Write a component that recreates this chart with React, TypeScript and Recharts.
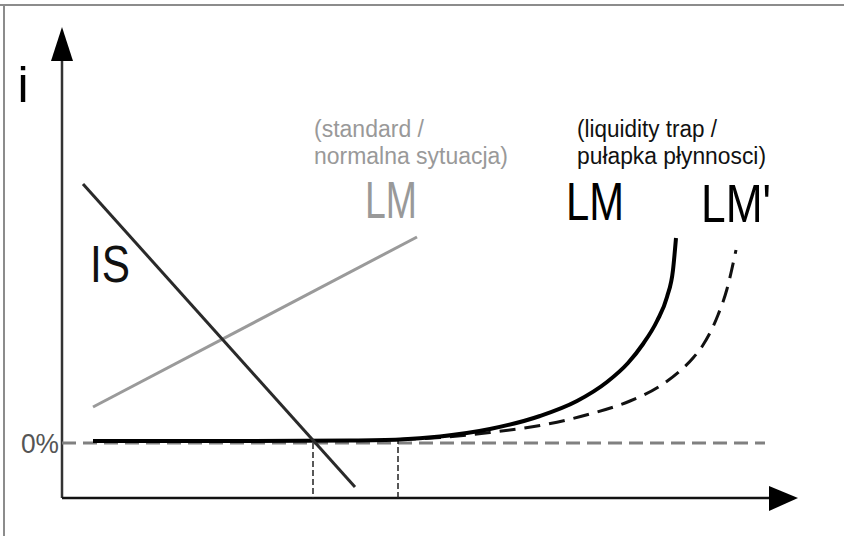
import React from "react";
import { ComposedChart, Line, XAxis, YAxis, ReferenceLine, ReferenceDot } from "recharts";

// Coordinates: x = output (Y), i = interest rate. 0% level at i = 0.
const isCurve = [
  { x: 2.1, i: 25.9 },
  { x: 29.3, i: -4.4 },
];

const lmStandard = [
  { x: 3.1, i: 3.6 },
  { x: 35.5, i: 20.6 },
];

const lmTrap = [
  { x: 3.1, i: 0.2 },
  { x: 18.8, i: 0.2 },
  { x: 28.8, i: 0.25 },
  { x: 33.8, i: 0.35 },
  { x: 37.8, i: 0.65 },
  { x: 42.8, i: 1.4 },
  { x: 47.8, i: 2.7 },
  { x: 51.5, i: 4.2 },
  { x: 54.5, i: 6.1 },
  { x: 56.6, i: 8.0 },
  { x: 58.1, i: 9.9 },
  { x: 59.5, i: 12.2 },
  { x: 60.5, i: 14.6 },
  { x: 61.1, i: 17.3 },
  { x: 61.4, i: 20.5 },
];

const lmShifted = [
  { x: 33.8, i: 0.35 },
  { x: 37.8, i: 0.55 },
  { x: 42.8, i: 1.05 },
  { x: 47.8, i: 1.75 },
  { x: 52.8, i: 2.9 },
  { x: 56.8, i: 4.2 },
  { x: 59.8, i: 5.7 },
  { x: 61.8, i: 7.2 },
  { x: 63.1, i: 8.5 },
  { x: 64.1, i: 9.8 },
  { x: 65.6, i: 12.8 },
  { x: 66.5, i: 15.4 },
  { x: 67.4, i: 19.3 },
];

const zeroLevel = [
  { x: 0, i: 0 },
  { x: 70.3, i: 0 },
];

const equilibriumMarks = [
  { x: 25.1, top: 0, bottom: -5.5 },
  { x: 33.6, top: 0.5, bottom: -5.5 },
];

const X_DOMAIN = [-6.2, 78.2];
const I_DOMAIN = [-9.3, 44.3];
const AXIS_I = -5.5;
const Y_AXIS_TOP = 40;
const X_AXIS_RIGHT = 71;
const Y_ARROW_TIP = { x: 0, i: 41.6 };
const X_ARROW_TIP = { x: 73.6, i: -5.5 };
const FRAME = { x: -5.8, i: 43.8 };

type Lbl = {
  text: string;
  x: number;
  i: number;
  size: number;
  fill: string;
  anchor: "start" | "middle" | "end";
  len?: number;
};

const labels: Lbl[] = [
  { text: "i", x: -3.9, i: 34.1, size: 50, fill: "#000", anchor: "middle" },
  { text: "0%", x: -0.3, i: -1.0, size: 28, fill: "#555", anchor: "end", len: 38 },
  { text: "IS", x: 2.8, i: 16.1, size: 52, fill: "#111", anchor: "start", len: 40 },
  { text: "LM", x: 30.3, i: 22.5, size: 51, fill: "#999", anchor: "start", len: 52 },
  { text: "(standard /", x: 25.2, i: 30.6, size: 23, fill: "#999", anchor: "start", len: 110 },
  { text: "normalna sytuacja)", x: 25.2, i: 27.9, size: 23, fill: "#999", anchor: "start", len: 194 },
  { text: "(liquidity trap /", x: 51.5, i: 30.6, size: 23, fill: "#111", anchor: "start", len: 140 },
  { text: "pułapka płynnosci)", x: 51.5, i: 27.9, size: 23, fill: "#111", anchor: "start", len: 189 },
  { text: "LM", x: 50.4, i: 22.3, size: 54, fill: "#000", anchor: "start", len: 58 },
  { text: "LM'", x: 63.9, i: 22.1, size: 54, fill: "#000", anchor: "start", len: 70 },
];

const FONT = "'Liberation Sans Narrow', 'Arial Narrow', 'Liberation Sans', sans-serif";

const textShape = (l: Lbl) => (props: any) => (
  <text
    x={props.cx}
    y={props.cy}
    fontSize={l.size}
    fill={l.fill}
    textAnchor={l.anchor}
    fontFamily={FONT}
    {...(l.len ? { textLength: l.len, lengthAdjust: "spacingAndGlyphs" } : {})}
  >
    {l.text}
  </text>
);

const upArrow = (props: any) => (
  <polygon
    points={`${props.cx},${props.cy} ${props.cx - 11},${props.cy + 34} ${props.cx + 11},${props.cy + 34}`}
    fill="#000"
  />
);

const rightArrow = (props: any) => (
  <polygon
    points={`${props.cx},${props.cy} ${props.cx - 29},${props.cy - 12} ${props.cx - 29},${props.cy + 13}`}
    fill="#000"
  />
);

export default function App() {
  return (
    <div style={{ position: "absolute", left: 0, top: 0, width: 844, height: 536, background: "#fff" }}>
      <ComposedChart width={844} height={536} margin={{ top: 0, right: 0, bottom: 0, left: 0 }}>
        <XAxis type="number" dataKey="x" domain={X_DOMAIN} allowDataOverflow hide />
        <YAxis type="number" dataKey="i" domain={I_DOMAIN} allowDataOverflow hide />

        {/* frame */}
        <ReferenceLine
          segment={[{ x: X_DOMAIN[0], y: FRAME.i }, { x: X_DOMAIN[1], y: FRAME.i }]}
          stroke="#8c8c8c"
          strokeWidth={2}
        />
        <ReferenceLine
          segment={[{ x: FRAME.x, y: FRAME.i }, { x: FRAME.x, y: I_DOMAIN[0] }]}
          stroke="#8c8c8c"
          strokeWidth={2}
        />

        {/* axes */}
        <ReferenceLine segment={[{ x: 0, y: AXIS_I }, { x: 0, y: Y_AXIS_TOP }]} stroke="#333" strokeWidth={2.5} />
        <ReferenceLine segment={[{ x: 0, y: AXIS_I }, { x: X_AXIS_RIGHT, y: AXIS_I }]} stroke="#111" strokeWidth={2.5} />
        <ReferenceDot x={Y_ARROW_TIP.x} y={Y_ARROW_TIP.i} r={0} shape={upArrow} />
        <ReferenceDot x={X_ARROW_TIP.x} y={X_ARROW_TIP.i} r={0} shape={rightArrow} />

        {/* 0% level */}
        <Line
          data={zeroLevel}
          dataKey="i"
          type="linear"
          stroke="#808080"
          strokeWidth={3}
          strokeDasharray="14 7"
          dot={false}
          activeDot={false}
          isAnimationActive={false}
        />

        {equilibriumMarks.map((m, k) => (
          <ReferenceLine
            key={k}
            segment={[{ x: m.x, y: m.top }, { x: m.x, y: m.bottom }]}
            stroke="#222"
            strokeWidth={1.5}
            strokeDasharray="6 3"
          />
        ))}

        <Line
          data={lmStandard}
          dataKey="i"
          type="linear"
          stroke="#9a9a9a"
          strokeWidth={3}
          dot={false}
          activeDot={false}
          isAnimationActive={false}
        />
        <Line
          data={lmShifted}
          dataKey="i"
          type="monotone"
          stroke="#111"
          strokeWidth={3}
          strokeDasharray="16 9"
          dot={false}
          activeDot={false}
          isAnimationActive={false}
        />
        <Line
          data={lmTrap}
          dataKey="i"
          type="monotone"
          stroke="#000"
          strokeWidth={4}
          dot={false}
          activeDot={false}
          isAnimationActive={false}
        />
        <Line
          data={isCurve}
          dataKey="i"
          type="linear"
          stroke="#2a2a2a"
          strokeWidth={3}
          dot={false}
          activeDot={false}
          isAnimationActive={false}
        />

        {labels.map((l, k) => (
          <ReferenceDot key={"l" + k} x={l.x} y={l.i} r={0} shape={textShape(l)} />
        ))}
      </ComposedChart>
    </div>
  );
}
